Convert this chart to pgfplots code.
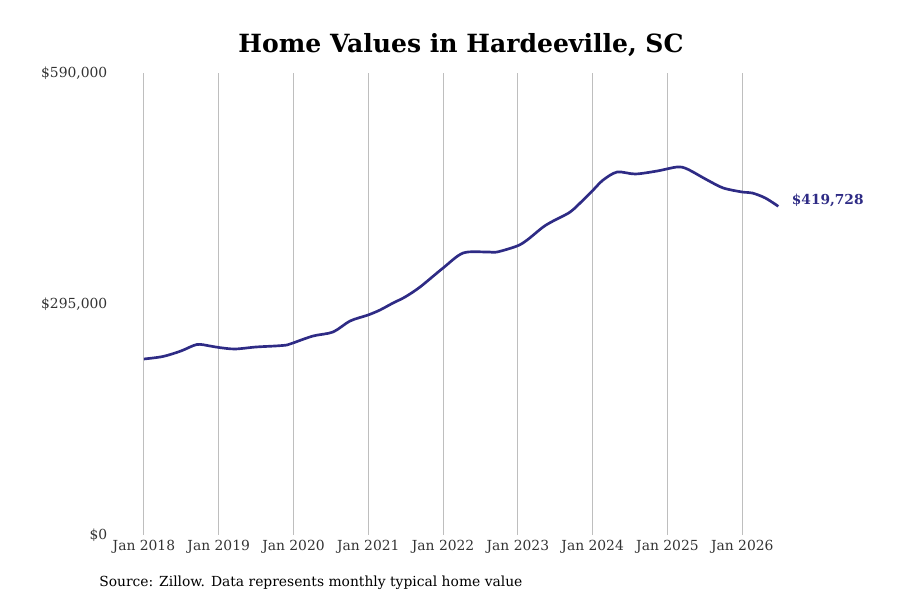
\documentclass[border=0pt]{standalone}
\usepackage{pgfplots}
\pgfplotsset{compat=1.18}
\usepackage{fontspec}
\setmainfont{DejaVu Serif}
\definecolor{linec}{RGB}{46,43,133}
\definecolor{gridc}{RGB}{190,190,190}
\definecolor{textc}{RGB}{51,51,51}
\begin{document}
\begin{tikzpicture}[x=0.75pt,y=0.75pt]
\path[use as bounding box] (0,0) rectangle (900,600);
\begin{axis}[
  at={(114*0.75pt,65*0.75pt)}, anchor=south west,
  scale only axis,
  width=538.5pt, height=346.5pt,
  xmin=2017.6, xmax=2027.2,
  ymin=0, ymax=590000,
  scaled y ticks=false,
  axis line style={draw=none},
  major tick length=0pt,
  xtick={2018,2019,2020,2021,2022,2023,2024,2025,2026},
  xticklabels={Jan 2018,Jan 2019,Jan 2020,Jan 2021,Jan 2022,Jan 2023,Jan 2024,Jan 2025,Jan 2026},
  ytick={0,295000,590000},
  yticklabels={{\$0},{\$295,000},{\$590,000}},
  xmajorgrids,
  grid style={gridc, line width=0.75pt},
  tick label style={font=\fontsize{10.4}{12}\selectfont, text=textc},
  xticklabel style={yshift=0pt},
  yticklabel style={anchor=east, xshift=-1.5pt},
  clip=false,
]
\addplot[linec, line width=2pt, smooth, tension=0.5] coordinates {
(2018.000,224763)
(2018.254,227955)
(2018.495,234979)
(2018.709,243280)
(2018.883,241364)
(2019.003,239449)
(2019.217,237533)
(2019.498,240087)
(2019.753,241364)
(2019.913,242641)
(2019.993,245196)
(2020.261,254135)
(2020.528,259243)
(2020.756,273291)
(2020.997,280953)
(2021.157,287339)
(2021.331,296278)
(2021.492,303940)
(2021.692,316711)
(2022.000,340975)
(2022.268,360131)
(2022.589,361408)
(2022.722,361408)
(2022.990,369070)
(2023.124,376733)
(2023.338,393335)
(2023.472,400997)
(2023.699,412490)
(2023.873,427815)
(2024.007,440586)
(2024.140,453356)
(2024.328,463573)
(2024.569,461019)
(2024.863,464850)
(2025.130,469958)
(2025.264,467404)
(2025.532,453356)
(2025.746,443140)
(2025.999,438031)
(2026.134,436754)
(2026.308,430369)
(2026.482,419728)
};
\node[anchor=west, text=linec, font=\fontsize{10.3}{12}\selectfont\bfseries, inner sep=0pt] at (axis cs:2026.66,427000) {\$419,728};
\end{axis}
\node[font=\fontsize{18.8}{22}\selectfont\bfseries] at (461,555) {Home Values in Hardeeville, SC};
\node[anchor=west, inner sep=0pt, font=\fontsize{10.4}{12}\selectfont] at (99,17) {Source: Zillow. Data represents monthly typical home value};
\end{tikzpicture}
\end{document}
